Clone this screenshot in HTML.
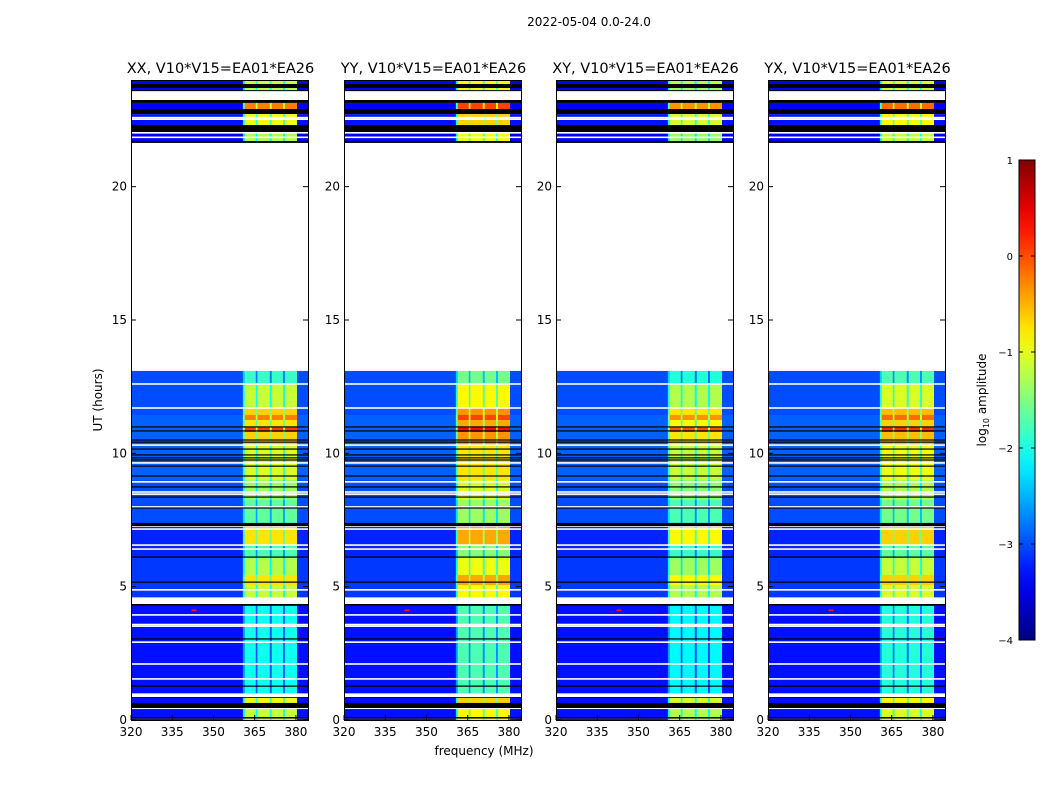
<!DOCTYPE html>
<html><head><meta charset="utf-8">
<style>
body{margin:0;background:#fff;}
svg{display:block;font-family:"DejaVu Sans","Liberation Sans",sans-serif;}
</style></head>
<body>
<svg id="fig" width="1050" height="800" viewBox="0 0 1050 800" xmlns="http://www.w3.org/2000/svg">
<rect width="1050" height="800" fill="#fff"/>
<text x="589" y="26" font-size="12" text-anchor="middle">2022-05-04 0.0-24.0</text>
<text x="484" y="755" font-size="12" text-anchor="middle">frequency (MHz)</text>
<text transform="translate(102,400) rotate(-90)" font-size="12" text-anchor="middle">UT (hours)</text>
<g id="panels"></g>
<g id="cbar"></g>
</svg>
<script>
// ---- data arrays ----
const panelTitles = ["XX, V10*V15=EA01*EA26","YY, V10*V15=EA01*EA26","XY, V10*V15=EA01*EA26","YX, V10*V15=EA01*EA26"];
const panelBandOffset = [-0.15, 0.15, -0.25, -0.05];
// frequency columns: [start MHz, end MHz, type]
const freqCols = [[320,360.7,"base"],[360.7,361.4,"edge"],[361.4,365.4,"band"],[365.4,366.0,"gap"],[366.0,370.5,"band"],[370.5,371.2,"gap"],[371.2,375.3,"band"],[375.3,376.0,"gap"],[376.0,380.4,"band"],[380.4,384.4,"base"]];
// time blocks: [hour start, hour end, kind, band log-amp, base log-amp]
const timeBlocks = [
 [23.85,24.0,"d",-1.0,-3.4],[23.70,23.85,"k"],[23.62,23.70,"d",-1.1,-3.4],[23.59,23.62,"k"],
 [23.14,23.25,"k"],[22.91,23.14,"d",-0.1,-3.4],[22.72,22.91,"k"],[22.31,22.72,"d",-0.8,-3.3],
 [22.05,22.31,"k"],[21.71,21.99,"d",-1.1,-3.4],[21.64,21.71,"k"],
 [12.6,13.09,"d",-1.7,-3.0],[11.7,12.6,"d",-1.0,-3.0],[11.44,11.7,"d",-0.5,-3.0],[11.25,11.44,"d",-0.1,-2.9],
 [10.99,11.25,"d",-0.6,-2.9],[10.8,10.99,"d",0.2,-2.9],[10.31,10.8,"d",-0.5,-2.9],[9.0,10.31,"d",-0.9,-2.9],
 [8.25,9.0,"d",-1.2,-3.0],[7.39,8.25,"d",-1.5,-3.0],[7.27,7.39,"k"],[6.56,7.24,"d",-0.6,-3.2],
 [6.07,6.56,"d",-1.6,-3.2],[5.44,6.07,"d",-1.1,-3.1],[5.06,5.44,"d",-0.6,-3.1],[4.61,5.06,"d",-1.0,-3.1],
 [4.28,4.35,"k"],[1.01,4.28,"d",-1.9,-3.3],[0.83,0.86,"k"],[0.64,0.83,"d",-0.8,-3.3],[0.45,0.64,"k"],
 [0.11,0.41,"d",-1.0,-3.3],[0.05,0.11,"k"],[0.0,0.05,"d",-1.0,-3.3]
];
const whiteLines = [23.45,12.6,11.7,10.31,9.64,8.93,8.55,8.47,7.99,7.16,6.56,6.41,4.88,3.94,3.58,3.52,2.92,2.1,1.54,22.59,22.53,21.85];
const blackLines = [10.99,10.84,10.5,10.42,10.16,9.94,9.83,9.75,9.52,9.15,8.74,8.36,7.95,6.11,5.17,4.31,3.04,1.27];
const yTicks = [0,5,10,15,20];
const xTicks = [320,335,350,365,380];
const cbarTicks = [1,0,-1,-2,-3,-4];
const cbarLabels = ["1","0","\u22121","\u22122","\u22123","\u22124"];

// ---- geometry ----
const panelLeft = [131,344,556,768], PW = 177, PT = 80, PB = 720;
const F0 = 320, F1 = 384.4, H0 = 0, H1 = 24;
function xScale(f, p){ return panelLeft[p] + (f - F0) / (F1 - F0) * PW; }
function yScale(h){ return PB - (h - H0) / (H1 - H0) * (PB - PT); }
function jet(v){
  let t = Math.max(0, Math.min(1, (v + 4) / 5));
  const c = x => Math.round(255 * Math.max(0, Math.min(1, 1.5 - Math.abs(4 * t - x))));
  return `rgb(${c(3)},${c(2)},${c(1)})`;
}
const NS = "http://www.w3.org/2000/svg";
function mk(tag, attrs, parent){ const e = document.createElementNS(NS, tag); for (const k in attrs) e.setAttribute(k, attrs[k]); parent.appendChild(e); return e; }

const panels = document.getElementById("panels");
for (let p = 0; p < 4; p++){
  const g = mk("g", {}, panels);
  
  
  timeBlocks.forEach(b => {
    const y0 = yScale(b[1]), y1 = yScale(b[0]);
    if (b[2] === "k"){
      const r = mk("rect", {x: xScale(F0,p), y: y0, width: PW, height: Math.max(1, y1 - y0), fill: "#000"}, g);
      
      
      return;
    }
    freqCols.forEach(c => {
      let v;
      if (c[2] === "base") v = b[4];
      else if (c[2] === "band") v = b[3] + panelBandOffset[p];
      else if (c[2] === "edge") v = (b[3] + b[4]) / 2;
      else v = b[3] + panelBandOffset[p] - 0.9;
      const r = mk("rect", {x: xScale(c[0],p), y: y0, width: xScale(c[1],p) - xScale(c[0],p) + 0.3, height: y1 - y0 + 0.3, fill: jet(v)}, g);
      
      
    });
  });
  whiteLines.forEach(h => {
    const r = mk("rect", {x: xScale(F0,p), y: yScale(h) - 0.8, width: PW, height: 1.6, fill: "#fff"}, g);
    
    
  });
  blackLines.forEach(h => {
    const r = mk("rect", {x: xScale(F0,p), y: yScale(h) - 0.6, width: PW, height: 1.2, fill: "#000"}, g);
    
    
  });
  const s = mk("rect", {x: xScale(342,p), y: yScale(4.15), width: 5, height: 2, fill: jet(0.3)}, g);
  
  
  const fr = mk("rect", {x: panelLeft[p] + 0.5, y: PT + 0.5, width: PW, height: PB - PT, fill: "none", stroke: "#000", "stroke-width": 1}, g);
  
  
  const t = mk("text", {x: panelLeft[p] + PW / 2 + 1, y: 73, "font-size": 14.5, "text-anchor": "middle"}, g);
  t.textContent = panelTitles[p];
  
  
  yTicks.forEach(h => {
    const y = yScale(h);
    mk("line", {x1: panelLeft[p], x2: panelLeft[p] + 5, y1: y, y2: y, stroke: "#000"}, g);
    mk("line", {x1: panelLeft[p] + PW - 5, x2: panelLeft[p] + PW, y1: y, y2: y, stroke: "#000"}, g);
    const l = mk("text", {x: panelLeft[p] - 4, y: y + 4, "font-size": 12, "text-anchor": "end"}, g);
    l.textContent = h;
    
    
  });
  xTicks.forEach(f => {
    const x = xScale(f, p);
    mk("line", {x1: x, x2: x, y1: PB, y2: PB - 5, stroke: "#000"}, g);
    const l = mk("text", {x: x, y: 736, "font-size": 12, "text-anchor": "middle"}, g);
    l.textContent = f;
    
    
  });
}

// colorbar
const cb = document.getElementById("cbar");
const CX = 1019, CW = 16, CT = 160, CB = 640;
const defs = mk("defs", {}, cb);
const grad = mk("linearGradient", {id: "jetg", x1: 0, y1: 1, x2: 0, y2: 0}, defs);
for (let i = 0; i <= 20; i++){ mk("stop", {offset: i / 20, "stop-color": jet(-4 + 5 * i / 20)}, grad); }
const cr = mk("rect", {x: CX, y: CT, width: CW, height: CB - CT, fill: "url(#jetg)", stroke: "#000", "stroke-width": 1}, cb);


function cScale(v){ return CB - (v + 4) / 5 * (CB - CT); }
cbarTicks.forEach((v, i) => {
  const y = cScale(v);
  mk("line", {x1: CX, x2: CX + 4, y1: y, y2: y, stroke: "#000"}, cb);
  mk("line", {x1: CX + CW - 4, x2: CX + CW, y1: y, y2: y, stroke: "#000"}, cb);
  const l = mk("text", {x: 1013, y: y + 4, "font-size": 10, "text-anchor": "end"}, cb);
  l.textContent = cbarLabels[i];
  
  
});
const cl = mk("text", {transform: "translate(986,400) rotate(-90)", "font-size": 12, "text-anchor": "middle"}, cb);
cl.innerHTML = 'log<tspan font-size="8" dy="3">10</tspan><tspan dy="-3"> amplitude</tspan>';


</script>
</body></html>
